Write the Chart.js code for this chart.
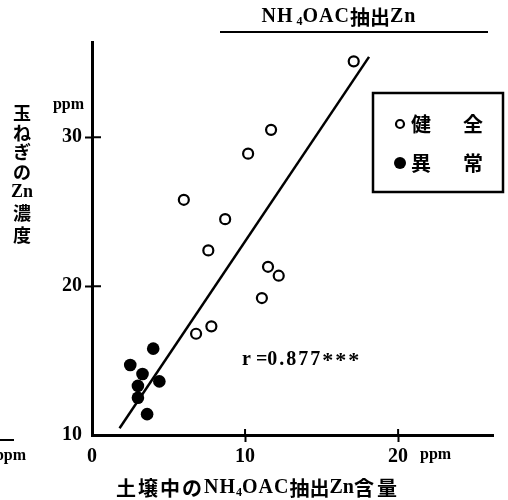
<!DOCTYPE html>
<html>
<head>
<meta charset="utf-8">
<script src="https://cdn.jsdelivr.net/npm/chart.js@4.4.0/dist/chart.umd.min.js"></script>
<style>
  html, body { margin: 0; padding: 0; background: #fff; }
  canvas { display: block; }
</style>
</head>
<body>
<canvas id="znChart" width="508" height="500"></canvas>
<script>
// soil NH4OAC-extractable Zn (ppm) vs Zn in onion (ppm)
const healthyX = [17.1, 11.7, 10.2, 6.0, 8.7, 7.6, 11.5, 12.2, 11.1, 6.8, 7.8];
const healthyY = [35.1, 30.5, 28.9, 25.8, 24.5, 22.4, 21.3, 20.7, 19.2, 16.8, 17.3];
const abnormalX = [4.0, 2.5, 3.3, 3.0, 4.4, 3.0, 3.6];
const abnormalY = [15.8, 14.7, 14.1, 13.3, 13.6, 12.5, 11.4];
// regression line end points
const fitX = [1.8, 18.1];
const fitY = [10.45, 35.4];
const xTicks = [0, 10, 20];
const yTicks = [10, 20, 30];

const SERIF = '"Liberation Serif", "Noto Sans CJK JP", serif';
const JP = '"Noto Sans CJK JP", sans-serif';

const toPoints = (xs, ys) => xs.map((x, i) => ({ x: x, y: ys[i] }));

// draw a row of text pieces (mixed fonts, subscripts), centred or left aligned
function drawRuns(ctx, runs, x, y, align) {
  ctx.textBaseline = 'middle';
  ctx.textAlign = 'left';
  let total = 0;
  runs.forEach(r => {
    ctx.font = r.f;
    r.w = ctx.measureText(r.t).width + (r.sp || 0) * r.t.length;
  });
  runs.forEach(r => total += r.w);
  let cx = align === 'center' ? x - total / 2 : x;
  runs.forEach(r => {
    ctx.font = r.f;
    if (r.sp) {
      for (const ch of r.t) {
        ctx.fillText(ch, cx, y + (r.dy || 0));
        cx += ctx.measureText(ch).width + r.sp;
      }
    } else {
      ctx.fillText(r.t, cx, y + (r.dy || 0));
      cx += r.w;
    }
  });
}

const decor = {
  id: 'decor',
  afterDraw(chart) {
    const ctx = chart.ctx;
    const xs = chart.scales.x, ys = chart.scales.y;
    const area = chart.chartArea;
    ctx.save();
    ctx.fillStyle = '#000';
    ctx.strokeStyle = '#000';

    // inner halves of the tick marks
    ctx.lineWidth = 2;
    ctx.beginPath();
    [20, 30].forEach(v => {
      const py = ys.getPixelForValue(v);
      ctx.moveTo(area.left, py);
      ctx.lineTo(area.left + 9, py);
    });
    [10, 20].forEach(v => {
      const px = xs.getPixelForValue(v);
      ctx.moveTo(px, area.bottom);
      ctx.lineTo(px, area.bottom - 6);
    });
    ctx.stroke();

    // heading with underline
    const b20 = 'bold 20px ' + SERIF;
    const sub = 'bold 12px ' + SERIF;
    const jp20 = 'bold 20px ' + JP;
    drawRuns(ctx, [
      { t: 'NH', f: b20, sp: 1 }, { t: ' 4', f: sub, dy: 5 }, { t: 'OAC', f: b20, sp: 1 },
      { t: '抽出', f: jp20 }, { t: 'Zn', f: b20, sp: 1 }
    ], 339, 17, 'center');
    ctx.lineWidth = 2;
    ctx.beginPath();
    ctx.moveTo(220, 32);
    ctx.lineTo(488, 32);
    ctx.stroke();

    // x axis title
    drawRuns(ctx, [
      { t: '土壌中の', f: jp20, sp: 2 }, { t: 'NH', f: b20, sp: 1 }, { t: '4', f: sub, dy: 5 },
      { t: 'OAC', f: b20, sp: 1 }, { t: '抽出', f: jp20 }, { t: 'Zn', f: b20 },
      { t: '含量', f: jp20, sp: 3 }
    ], 258, 488, 'center');

    // y axis title, stacked
    const yLabel = ['玉', 'ね', 'ぎ', 'の', 'Zn', '濃', '度'];
    const yPos = [113, 133, 152, 172, 192, 213, 235];
    ctx.textAlign = 'center';
    ctx.textBaseline = 'middle';
    yLabel.forEach((c, i) => {
      ctx.font = c === 'Zn' ? 'bold 18px ' + SERIF : 'bold 18px ' + JP;
      ctx.fillText(c, 22, yPos[i]);
    });

    // units
    ctx.font = 'bold 16px ' + SERIF;
    ctx.textAlign = 'right';
    ctx.fillText('ppm', 84, 105);
    ctx.textAlign = 'left';
    ctx.fillText('ppm', 420, 455);
    // cut-off unit of the neighbouring panel
    ctx.textAlign = 'right';
    ctx.fillText('ppm', 26, 456);
    ctx.beginPath();
    ctx.moveTo(0, 440);
    ctx.lineTo(14, 440);
    ctx.stroke();

    // correlation coefficient
    drawRuns(ctx, [
      { t: 'r', f: b20 }, { t: ' =', f: b20 }, { t: '0.877', f: b20, sp: 2 },
      { t: '***', f: 'bold 22px ' + SERIF, sp: 2, dy: 1 }
    ], 242, 360, 'left');

    // legend box
    ctx.lineWidth = 2.5;
    ctx.strokeRect(373, 93, 130, 99);
    ctx.lineWidth = 2.2;
    ctx.beginPath();
    ctx.arc(400, 124, 4, 0, Math.PI * 2);
    ctx.fillStyle = '#fff';
    ctx.fill();
    ctx.stroke();
    ctx.fillStyle = '#000';
    ctx.beginPath();
    ctx.arc(400, 163, 6, 0, Math.PI * 2);
    ctx.fill();
    ctx.font = 'bold 20px ' + JP;
    ctx.textAlign = 'center';
    ctx.fillText('健', 421, 124);
    ctx.fillText('全', 473, 124);
    ctx.fillText('異', 421, 163);
    ctx.fillText('常', 473, 163);
    ctx.restore();
  }
};

const hideAt = skip => c => (c.tick && c.tick.value === skip) ? 'rgba(0,0,0,0)' : '#000';

new Chart(document.getElementById('znChart').getContext('2d'), {
  type: 'scatter',
  data: {
    datasets: [
      {
        label: '健全',
        data: toPoints(healthyX, healthyY),
        pointRadius: 5,
        pointBorderWidth: 2.2,
        pointBorderColor: '#000',
        pointBackgroundColor: '#fff'
      },
      {
        label: '異常',
        data: toPoints(abnormalX, abnormalY),
        pointRadius: 6.3,
        pointBorderWidth: 0,
        pointBackgroundColor: '#000'
      },
      {
        type: 'line',
        label: 'fit',
        data: toPoints(fitX, fitY),
        borderColor: '#000',
        borderWidth: 2.5,
        pointRadius: 0,
        fill: false,
        order: 5
      }
    ]
  },
  options: {
    responsive: false,
    animation: false,
    devicePixelRatio: 1,
    layout: { padding: { top: 42, right: 15, left: 0, bottom: 0 } },
    plugins: {
      legend: { display: false },
      tooltip: { enabled: false }
    },
    scales: {
      x: {
        type: 'linear',
        min: 0,
        max: 26.2,
        afterBuildTicks: s => { s.ticks = xTicks.map(v => ({ value: v })); },
        afterFit: s => { s.height = 65; },
        border: { display: true, color: '#000', width: 3 },
        grid: {
          drawOnChartArea: false,
          drawTicks: true,
          tickLength: 7,
          tickWidth: 2,
          tickColor: hideAt(0)
        },
        ticks: {
          color: '#000',
          padding: 3,
          font: { family: SERIF, size: 20, weight: 'bold' }
        }
      },
      y: {
        type: 'linear',
        min: 10,
        max: 36.4,
        afterBuildTicks: s => { s.ticks = yTicks.map(v => ({ value: v })); },
        afterFit: s => { s.width = 92; },
        border: { display: true, color: '#000', width: 3 },
        grid: {
          drawOnChartArea: false,
          drawTicks: true,
          tickLength: 7,
          tickWidth: 2,
          tickColor: hideAt(10)
        },
        ticks: {
          color: '#000',
          padding: 3,
          font: { family: SERIF, size: 20, weight: 'bold' }
        }
      }
    }
  },
  plugins: [decor]
});
</script>
</body>
</html>
